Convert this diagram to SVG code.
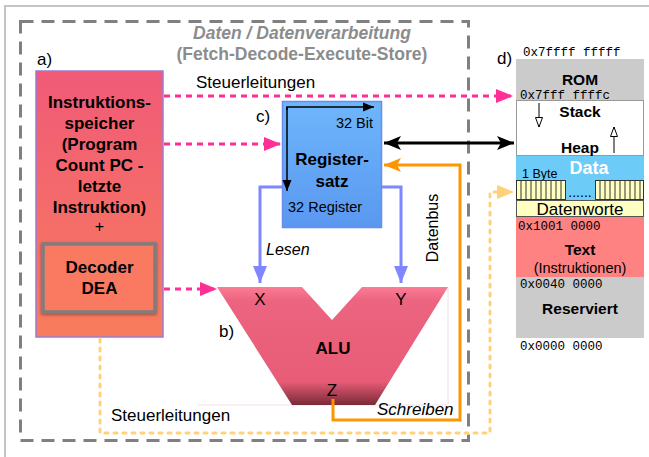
<svg xmlns="http://www.w3.org/2000/svg" width="649" height="457" viewBox="0 0 649 457">
<defs>
<style>
.t{font-family:"Liberation Sans",Arial,sans-serif;fill:#000}
.b{font-weight:bold}
.m{font-family:"Liberation Mono","Courier New",monospace;font-size:12.5px;fill:#000}
.pink{stroke:#ff2f95;stroke-width:3;stroke-dasharray:6 5;fill:none}
.yel{stroke:#ffd27a;stroke-width:3;stroke-dasharray:3 6;stroke-linecap:round;fill:none}
.blue{stroke:#7f86ff;stroke-width:3;fill:none}
.org{stroke:#ff9500;stroke-width:3;fill:none}
</style>
<linearGradient id="gInst" x1="0" y1="0" x2="0" y2="1"><stop offset="0" stop-color="#f05a78"/><stop offset="1" stop-color="#f97c5c"/></linearGradient>
<linearGradient id="gReg" x1="0" y1="0" x2="0" y2="1"><stop offset="0" stop-color="#6eb6fb"/><stop offset="1" stop-color="#5a98f0"/></linearGradient>
<linearGradient id="gAlu" x1="0" y1="0" x2="0" y2="1"><stop offset="0" stop-color="#fb7c95"/><stop offset="0.12" stop-color="#ec6480"/><stop offset="0.8" stop-color="#e85c76"/><stop offset="1" stop-color="#7a2a38"/></linearGradient>
<filter id="sh" x="-20%" y="-20%" width="140%" height="140%"><feDropShadow dx="0" dy="1" stdDeviation="1.5" flood-color="#000" flood-opacity="0.4"/></filter>
<marker id="aPink" markerUnits="userSpaceOnUse" markerWidth="18" markerHeight="14" refX="17" refY="7" orient="auto"><path d="M0,0 L17,7 L0,14 Z" fill="#ff2f95"/></marker>
<marker id="aBlk" markerUnits="userSpaceOnUse" markerWidth="18" markerHeight="14" refX="17" refY="7" orient="auto-start-reverse"><path d="M0,0 L17,7 L0,14 L4,7 Z" fill="#000"/></marker>
<marker id="aOrg" markerUnits="userSpaceOnUse" markerWidth="18" markerHeight="14" refX="17" refY="7" orient="auto"><path d="M0,0 L17,7 L0,14 L4,7 Z" fill="#ff9500"/></marker>
<marker id="aBlue" markerUnits="userSpaceOnUse" markerWidth="18" markerHeight="14" refX="17" refY="7" orient="auto"><path d="M0,0 L17,7 L0,14 Z" fill="#7f86ff"/></marker>
<marker id="aYel" markerUnits="userSpaceOnUse" markerWidth="18" markerHeight="14" refX="17" refY="7" orient="auto"><path d="M0,0 L17,7 L0,14 Z" fill="#ffd27a"/></marker>
<marker id="aThin" markerUnits="userSpaceOnUse" markerWidth="12" markerHeight="10" refX="11" refY="5" orient="auto"><path d="M0,0.5 L11,5 L0,9.5 Z" fill="#000"/></marker>
<marker id="aOpen" markerUnits="userSpaceOnUse" markerWidth="12" markerHeight="10" refX="10" refY="4" orient="auto"><path d="M0.5,0.5 L10,4 L0.5,7.5 Z" fill="#fff" stroke="#000" stroke-width="1"/></marker>
</defs>
<rect x="5" y="6" width="700" height="500" fill="#fff" stroke="#c4c4c4" stroke-width="2"/>
<rect x="20.5" y="21.5" width="448" height="419" fill="none" stroke="#808080" stroke-width="3" stroke-dasharray="13 8"/>
<text class="t b" x="302" y="39" font-size="17.5" font-style="italic" style="fill:#8c8c8c" text-anchor="middle">Daten / Datenverarbeitung</text>
<text class="t b" x="302" y="60" font-size="17.5" style="fill:#8c8c8c" text-anchor="middle">(Fetch-Decode-Execute-Store)</text>

<g id="instr">
<text class="t" x="37" y="65" font-size="17">a)</text>
<rect x="36" y="71" width="127" height="266" fill="url(#gInst)" stroke="#9b7bd0" stroke-width="1.5"/>
<g class="t b" font-size="17" text-anchor="middle">
<text x="99.5" y="108">Instruktions-</text>
<text x="99.5" y="129">speicher</text>
<text x="99.5" y="150">(Program</text>
<text x="99.5" y="171">Count PC -</text>
<text x="99.5" y="192">letzte</text>
<text x="99.5" y="213">Instruktion)</text>
</g>
<text class="t" x="99.5" y="232" font-size="16" text-anchor="middle">+</text>
</g>

<g id="decoder">
<rect x="43" y="244" width="112" height="68" fill="#f97a60" stroke="#7e7e7e" stroke-width="3.5" filter="url(#sh)"/>
<text class="t b" x="99.5" y="273" font-size="17" text-anchor="middle">Decoder</text>
<text class="t b" x="99.5" y="294" font-size="17" text-anchor="middle">DEA</text>
</g>

<g id="register">
<text class="t" x="256" y="122" font-size="17">c)</text>
<rect x="282.5" y="101.5" width="99" height="126" fill="url(#gReg)" stroke="#6a8cf0" stroke-width="1.5"/>
<path d="M287,110 L287,107 L374,107" fill="none" stroke="#000" stroke-width="1.5" marker-end="url(#aThin)"/>
<line x1="287" y1="107" x2="287" y2="191" stroke="#000" stroke-width="1.5" marker-end="url(#aThin)"/>
<text class="t" x="373" y="128" font-size="14.5" text-anchor="end">32 Bit</text>
<text class="t b" x="332" y="165" font-size="17" text-anchor="middle">Register-</text>
<text class="t b" x="332" y="187" font-size="17" text-anchor="middle">satz</text>
<text class="t" x="288" y="212" font-size="14.5">32 Register</text>
</g>

<g id="alu">
<line x1="198" y1="405" x2="447" y2="405" stroke="#f3dde2" stroke-width="1"/>
<line x1="448" y1="287" x2="448" y2="405" stroke="#f3dde2" stroke-width="1"/>
<polygon points="217,287 302,287 332,320 362,287 448,287 375,405 292,405" fill="url(#gAlu)"/>
<text class="t" x="260" y="305" font-size="17" text-anchor="middle">X</text>
<text class="t" x="401" y="305" font-size="17" text-anchor="middle">Y</text>
<text class="t" x="219" y="337" font-size="17">b)</text>
<text class="t b" x="333" y="354" font-size="17" text-anchor="middle">ALU</text>
<text class="t" x="332" y="396" font-size="17" text-anchor="middle">Z</text>
</g>

<g id="memory">
<text class="t" x="497" y="64" font-size="17">d)</text>
<text class="m" x="523" y="56">0x7ffff fffff</text>
<rect x="516" y="59" width="128" height="41" fill="#cbcbcb"/>
<text class="t b" x="580" y="85" font-size="15.5" text-anchor="middle">ROM</text>
<text class="m" x="520" y="98.5">0x7fff ffffc</text>
<rect x="516.5" y="100.5" width="127" height="55" fill="#fff" stroke="#999" stroke-width="1"/>
<text class="t b" x="580" y="117" font-size="15.5" text-anchor="middle">Stack</text>
<text class="t b" x="580" y="153" font-size="15.5" text-anchor="middle">Heap</text>
<line x1="539" y1="103" x2="539" y2="127" stroke="#000" stroke-width="1" marker-end="url(#aOpen)"/>
<line x1="614" y1="153" x2="614" y2="127" stroke="#000" stroke-width="1" marker-end="url(#aOpen)"/>
<rect x="516" y="156" width="128" height="44" fill="#6dcbf8"/>
<text class="t" x="522" y="178" font-size="12.5">1 Byte</text>
<text class="t b" x="589" y="174" font-size="18" style="fill:#fff" text-anchor="middle">Data</text>
<g stroke="#333" stroke-width="1">
<rect x="516.5" y="180.5" width="49" height="19" fill="#ffffc2"/>
<rect x="595.5" y="180.5" width="48" height="19" fill="#ffffc2"/>
<path d="M521,181v19M526,181v19M531,181v19M536,181v19M541,181v19M546,181v19M551,181v19M556,181v19M561,181v19M600,181v19M605,181v19M610,181v19M615,181v19M620,181v19M625,181v19M630,181v19M635,181v19M640,181v19"/>
</g>
<text class="t" x="580" y="197" font-size="14" text-anchor="middle">......</text>
<rect x="516.5" y="200.5" width="127" height="16" fill="#ffffc2" stroke="#555" stroke-width="1"/>
<text class="t" x="580" y="215" font-size="17" text-anchor="middle">Datenworte</text>
<rect x="516" y="217" width="128" height="60" fill="#ff8282"/>
<text class="m" x="518" y="230">0x1001 0000</text>
<text class="t b" x="580" y="255" font-size="15.5" text-anchor="middle">Text</text>
<text class="t" x="580" y="273" font-size="14.5" text-anchor="middle">(Instruktionen)</text>
<rect x="516" y="277" width="128" height="61" fill="#cbcbcb"/>
<text class="m" x="520" y="288">0x0040 0000</text>
<text class="t b" x="580" y="314" font-size="15.5" text-anchor="middle">Reserviert</text>
<text class="m" x="520" y="350">0x0000 0000</text>
</g>

<g id="connectors">
<line class="pink" x1="164" y1="96" x2="513" y2="96" marker-end="url(#aPink)"/>
<text class="t" x="196" y="88" font-size="17">Steuerleitungen</text>
<line class="pink" x1="164" y1="144" x2="281" y2="144" marker-end="url(#aPink)"/>
<line class="pink" x1="164" y1="289" x2="217" y2="289" marker-end="url(#aPink)"/>
<line x1="384" y1="143" x2="514" y2="143" stroke="#000" stroke-width="3" marker-start="url(#aBlk)" marker-end="url(#aBlk)"/>
<path class="org" d="M333,399 L333,420 L460,420 L460,165 L384,165" marker-end="url(#aOrg)"/>
<text class="t" x="0" y="0" font-size="16" text-anchor="middle" transform="translate(438,228) rotate(-90)">Datenbus</text>
<path class="blue" d="M282,187 L260,187 L260,283" marker-end="url(#aBlue)"/>
<path class="blue" d="M382,187 L401,187 L401,283" marker-end="url(#aBlue)"/>
<text class="t" x="266" y="255" font-size="16" font-style="italic">Lesen</text>
<text class="t" x="377" y="415" font-size="17" font-style="italic">Schreiben</text>
<path class="yel" d="M100,339 L100,433 L490,433 L490,192 L500,192"/>
<line x1="497" y1="192" x2="514" y2="192" stroke="none" marker-end="url(#aYel)"/>
<text class="t" x="111" y="421" font-size="17">Steuerleitungen</text>
</g>
</svg>
